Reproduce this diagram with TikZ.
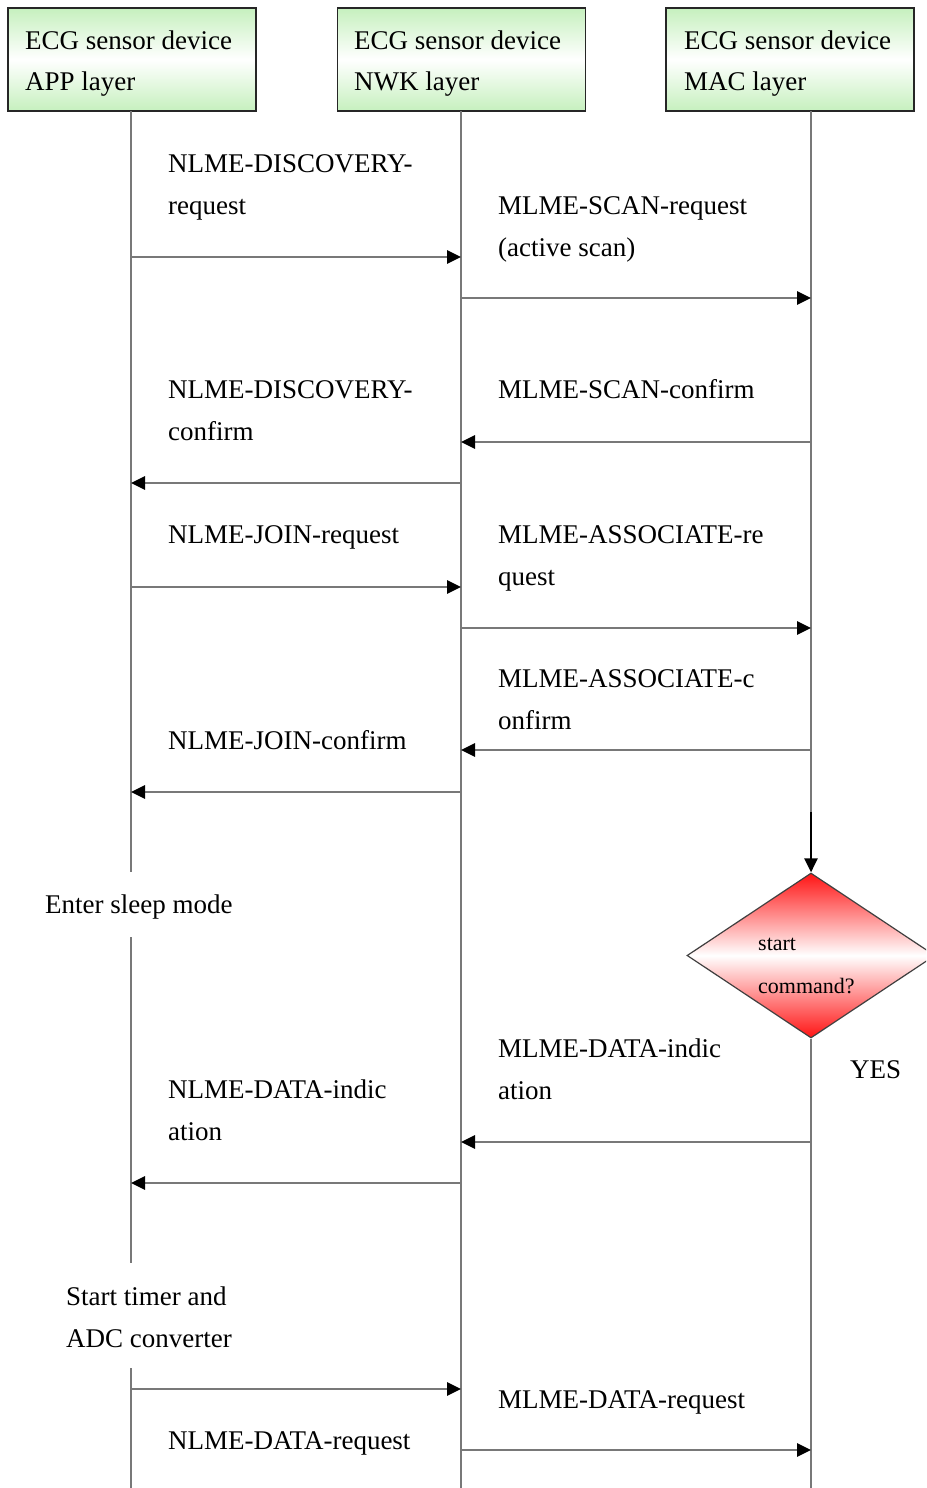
\documentclass[tikz,border=0pt]{standalone}
\usepackage{fontspec}
\setmainfont{Liberation Serif}
\usetikzlibrary{arrows.meta,shapes.geometric}
\definecolor{boxgreen}{RGB}{198,240,190}
\definecolor{linegray}{RGB}{120,120,120}
\definecolor{dred}{RGB}{255,20,20}
\tikzset{
  layerbox/.style={draw=black!85, line width=1.2pt, minimum width=248pt, minimum height=103pt, inner sep=0pt,
    top color=boxgreen, bottom color=boxgreen, middle color=white},
  lbl/.style={anchor=base west, inner sep=0pt, font=\fontsize{27pt}{32pt}\selectfont},
  smalllbl/.style={anchor=base west, inner sep=0pt, font=\fontsize{22pt}{26pt}\selectfont},
  lifeline/.style={draw=linegray, line width=2.8pt},
  msg/.style={draw=linegray, line width=2.8pt, -{Triangle[length=14pt,width=13pt,color=black]}},
  decision/.style={diamond, draw=black!75, line width=1.2pt, minimum width=248pt, minimum height=165pt, inner sep=0pt,
    top color=dred, bottom color=dred, middle color=white}
}
\begin{document}
\begin{tikzpicture}[x=1pt,y=-1pt]
\useasboundingbox (0,0) rectangle (926,1488);
\clip (0,0) rectangle (926,1488);
\fill[white] (0,0) rectangle (926,1488);
% lifeline x positions
\coordinate (appL) at (131,0);
\coordinate (nwkL) at (461,0);
\coordinate (macL) at (811,0);
% boxes
\node[layerbox] (app) at (132,59.5) {};
\node[layerbox] (nwk) at (461.5,59.5) {};
\node[layerbox] (mac) at (790,59.5) {};
\node[lbl] (appt1) at (25,49) {ECG sensor device};
\node[lbl] (appt2) at (25,90) {APP layer};
\node[lbl] (nwkt1) at (354,49) {ECG sensor device};
\node[lbl] (nwkt2) at (354,90) {NWK layer};
\node[lbl] (mact1) at (684,49) {ECG sensor device};
\node[lbl] (mact2) at (684,90) {MAC layer};
% decision
\node[decision] (dec) at (811,955.5) {};
\node[smalllbl] (dect1) at (758,950) {start};
\node[smalllbl] (dect2) at (758,993) {command?};
% lifelines
\coordinate (a0) at (131,111);
\coordinate (a1) at (131,872);
\coordinate (a2) at (131,937);
\coordinate (a3) at (131,1263);
\coordinate (a4) at (131,1368);
\coordinate (a5) at (131,1488);
\draw[lifeline] (a0) -- (a1);
\draw[lifeline] (a2) -- (a3);
\draw[lifeline] (a4) -- (a5);
\coordinate (n0) at (461,111);
\coordinate (n1) at (461,1488);
\draw[lifeline] (n0) -- (n1);
\coordinate (m0) at (811,111);
\coordinate (m1) at (811,812);
\coordinate (m2) at (811,1488);
\draw[lifeline] (m0) -- (m1);
\draw[line width=2.4pt, -{Triangle[length=14pt,width=13pt,color=black]}] (m1) -- (dec.north);
\draw[lifeline] (dec.south) -- (m2);
% messages
\draw[msg] (appL |- 0,257) -- (nwkL |- 0,257);
\draw[msg] (nwkL |- 0,298) -- (macL |- 0,298);
\draw[msg] (macL |- 0,442) -- (nwkL |- 0,442);
\draw[msg] (nwkL |- 0,483) -- (appL |- 0,483);
\draw[msg] (appL |- 0,587) -- (nwkL |- 0,587);
\draw[msg] (nwkL |- 0,628) -- (macL |- 0,628);
\draw[msg] (macL |- 0,750) -- (nwkL |- 0,750);
\draw[msg] (nwkL |- 0,792) -- (appL |- 0,792);
\draw[msg] (macL |- 0,1142) -- (nwkL |- 0,1142);
\draw[msg] (nwkL |- 0,1183) -- (appL |- 0,1183);
\draw[msg] (appL |- 0,1389) -- (nwkL |- 0,1389);
\draw[msg] (nwkL |- 0,1450) -- (macL |- 0,1450);
% labels
\node[lbl] (l1a) at (168,172) {NLME-DISCOVERY-};
\node[lbl] (l1b) at (168,214) {request};
\node[lbl] (l2a) at (498,214) {MLME-SCAN-request};
\node[lbl] (l2b) at (498,256) {(active scan)};
\node[lbl] (l3a) at (498,398) {MLME-SCAN-confirm};
\node[lbl] (l4a) at (168,398) {NLME-DISCOVERY-};
\node[lbl] (l4b) at (168,440) {confirm};
\node[lbl] (l5a) at (168,543) {NLME-JOIN-request};
\node[lbl] (l6a) at (498,543) {MLME-ASSOCIATE-re};
\node[lbl] (l6b) at (498,585) {quest};
\node[lbl] (l7a) at (498,687) {MLME-ASSOCIATE-c};
\node[lbl] (l7b) at (498,729) {onfirm};
\node[lbl] (l8a) at (168,749) {NLME-JOIN-confirm};
\node[lbl] (sleep) at (45,913) {Enter sleep mode};
\node[lbl] (yes) at (850,1078) {YES};
\node[lbl] (l9a) at (498,1057) {MLME-DATA-indic};
\node[lbl] (l9b) at (498,1099) {ation};
\node[lbl] (l10a) at (168,1098) {NLME-DATA-indic};
\node[lbl] (l10b) at (168,1140) {ation};
\node[lbl] (st1) at (66,1305) {Start timer and};
\node[lbl] (st2) at (66,1347) {ADC converter};
\node[lbl] (l11a) at (498,1408) {MLME-DATA-request};
\node[lbl] (l12a) at (168,1449) {NLME-DATA-request};
\end{tikzpicture}
\end{document}
